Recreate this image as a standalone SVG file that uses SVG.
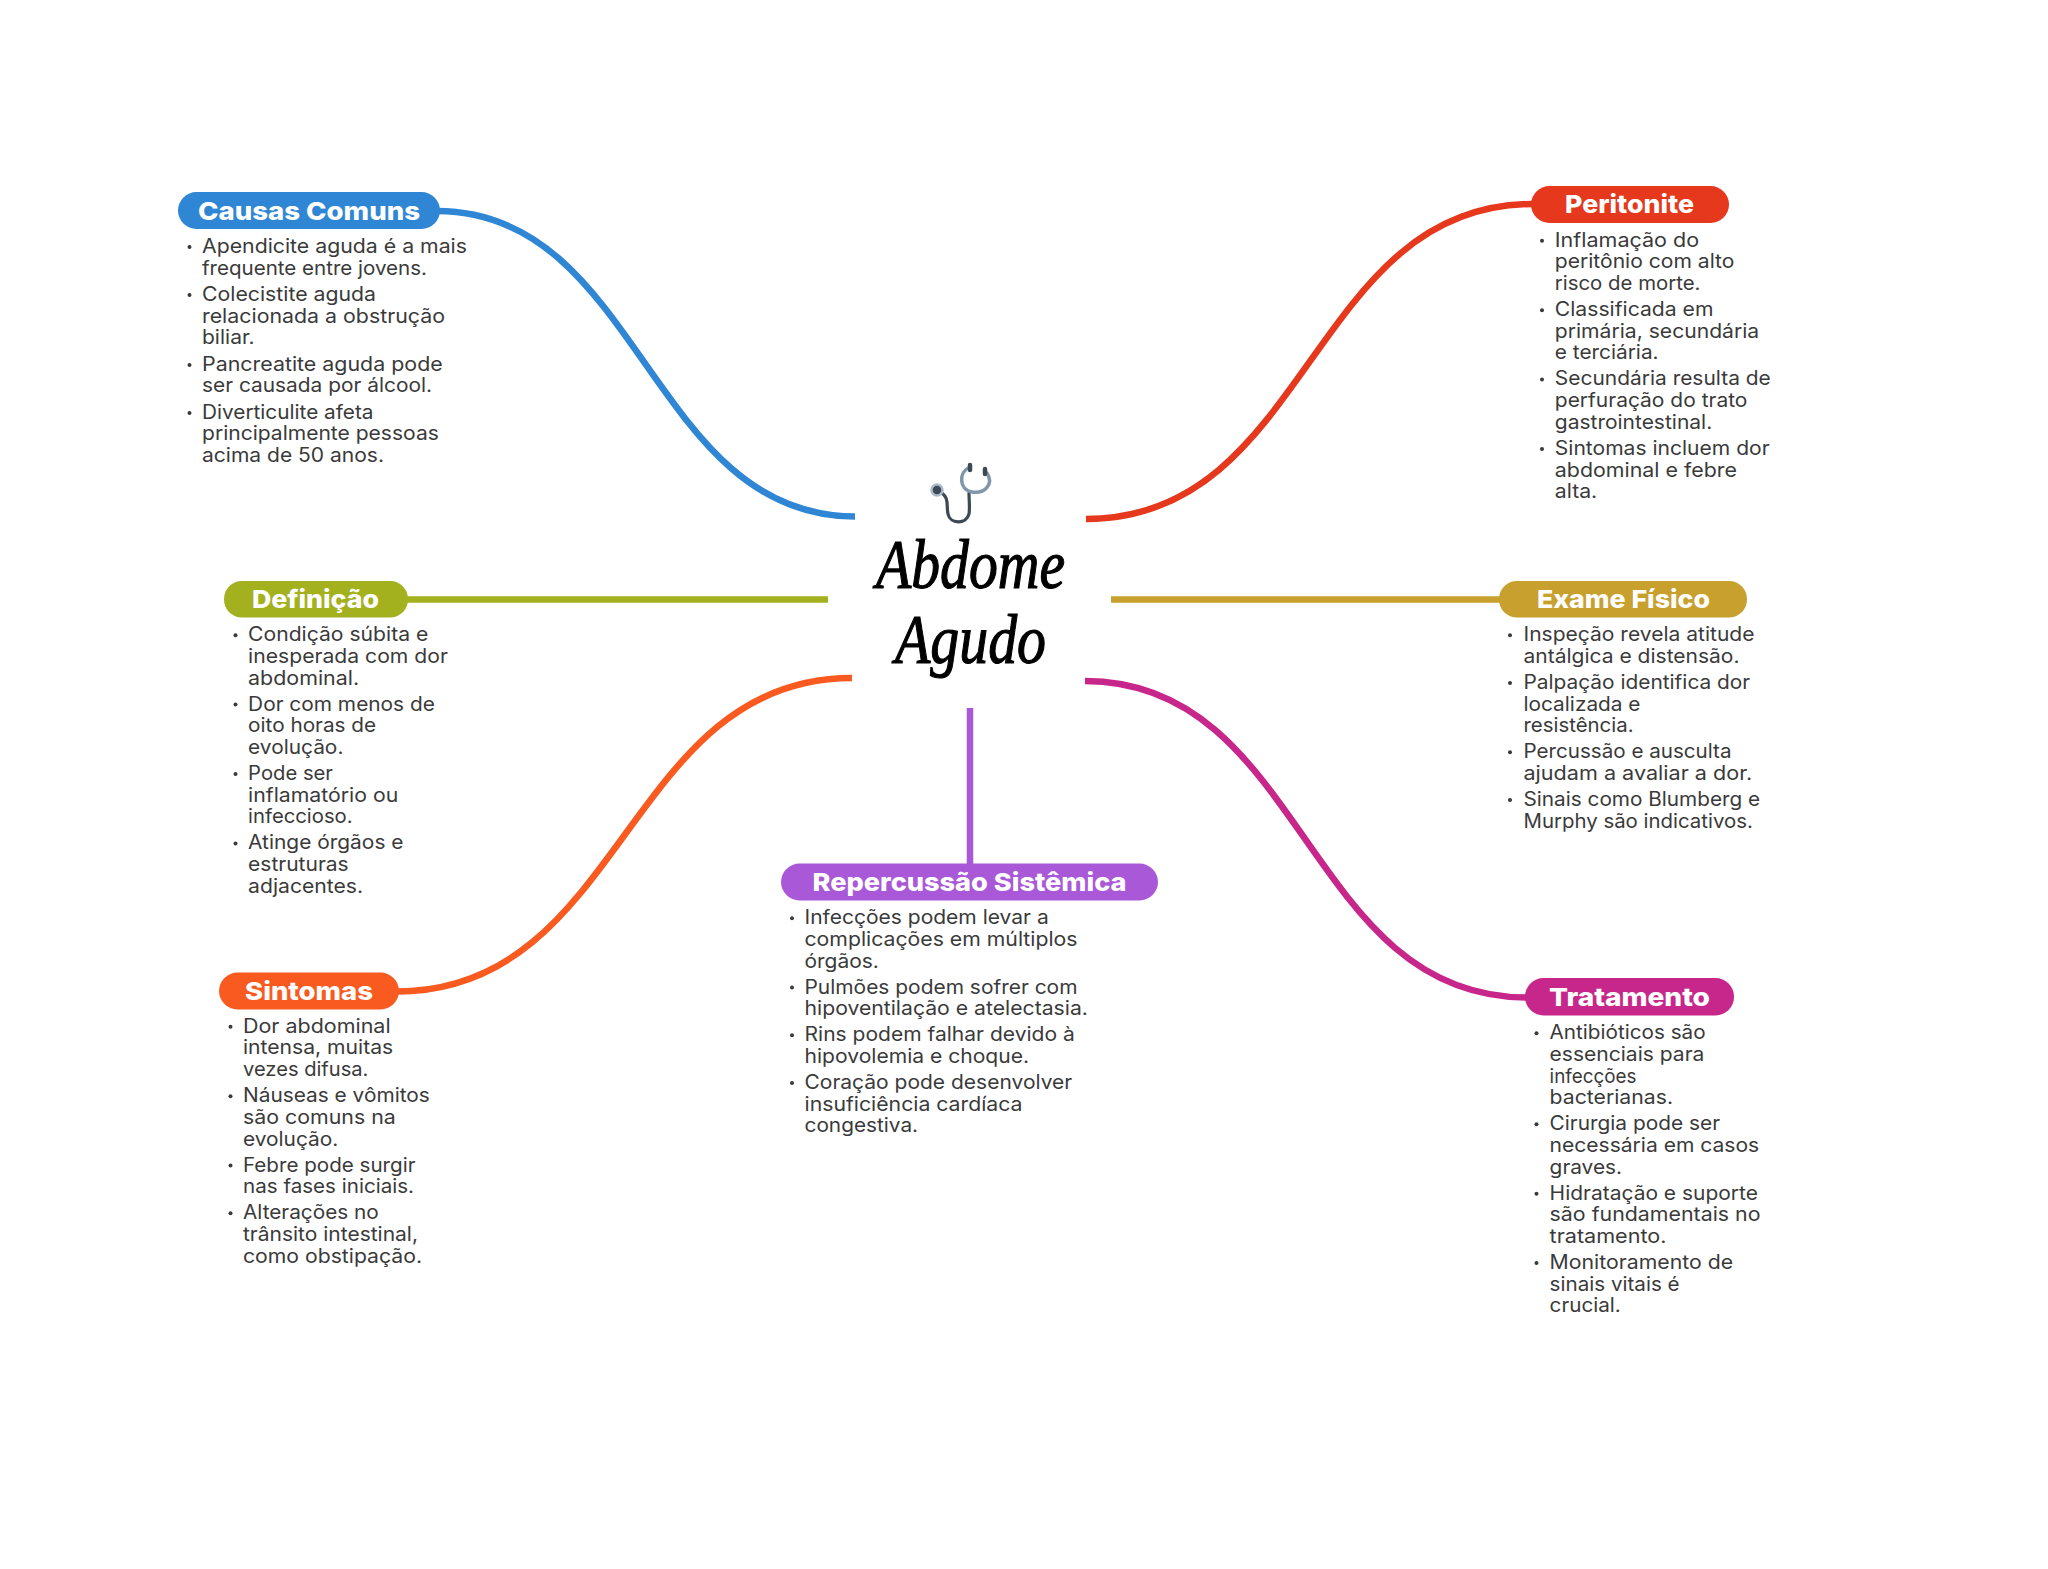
<svg xmlns="http://www.w3.org/2000/svg" width="2048" height="1569" viewBox="0 0 2048 1569">
<style>
.t{font-family:"Inter","Liberation Sans",sans-serif;font-size:19.5px;fill:#3a3a3a;}
.h{font-family:"Inter","Liberation Sans",sans-serif;font-size:25px;font-weight:800;fill:#fff;}
.c{fill:none;stroke-width:6.500;}
.b{fill:#3a3a3a;}
.title{font-family:"Liberation Serif",serif;font-style:italic;font-size:70px;fill:#000;stroke:#000;stroke-width:1.2;}
</style>
<rect width="2048" height="1569" fill="#fff"/>
<g id="connectors">
<path class="c" stroke="#2f86d4" d="M437 211C640 211 650 516.500 855 516.500"/>
<path class="c" stroke="#e5381c" d="M1533 204C1310 204 1310 519 1086 519"/>
<path class="c" stroke="#a3b11f" d="M405 599.500H828"/>
<path class="c" stroke="#c8a02e" d="M1111 599.500H1501"/>
<path class="c" stroke="#f85a20" d="M396 991.500C625 991.500 625 678 852 678"/>
<path class="c" stroke="#c7278a" d="M1527 997.500C1305 997.500 1305 681 1085 681"/>
<path class="c" stroke="#a958d8" d="M970 708V865"/>
</g>
<g id="center">
<g fill="none" stroke="#3d4a55" stroke-linecap="round" stroke-linejoin="round">
<path stroke-width="3.200" d="M940 492C950 497 946 506 948 514C950 524 966 525 969 514C970 508 969 500 969 493"/>
<path stroke="#7f97a8" stroke-width="3.500" d="M970 467C958 472 959 490 972 492C985 494 994 484 987 473"/>
<path stroke-width="4.500" d="M970 465V470M985 469V474"/>
</g>
<circle cx="937" cy="490" r="5.500" fill="#3d4a55" stroke="#a9bac6" stroke-width="2.500"/>
<text class="title" x="876" y="588" textLength="189" lengthAdjust="spacingAndGlyphs">Abdome</text>
<text class="title" x="895" y="663" textLength="151" lengthAdjust="spacingAndGlyphs">Agudo</text>
</g>
<g id="causas">
<rect x="178" y="192" width="262" height="37" rx="18.500" fill="#2f86d4"/>
<text class="h" x="198" y="219.500" textLength="222" lengthAdjust="spacingAndGlyphs">Causas Comuns</text>
<g transform="translate(-0.500,1)">
<circle class="b" cx="190" cy="246" r="2"/><circle class="b" cx="190" cy="294" r="2"/><circle class="b" cx="190" cy="364" r="2"/><circle class="b" cx="190" cy="412" r="2"/>
<text class="t" x="202.500" y="252" textLength="265" lengthAdjust="spacingAndGlyphs">Apendicite aguda é a mais</text>
<text class="t" x="202.500" y="273.700" textLength="225" lengthAdjust="spacingAndGlyphs">frequente entre jovens.</text>
<text class="t" x="202.500" y="300" textLength="174" lengthAdjust="spacingAndGlyphs">Colecistite aguda</text>
<text class="t" x="202.500" y="321.700" textLength="243" lengthAdjust="spacingAndGlyphs">relacionada a obstrução</text>
<text class="t" x="202.500" y="343.400" textLength="52.600" lengthAdjust="spacingAndGlyphs">biliar.</text>
<text class="t" x="202.500" y="369.700" textLength="240.700" lengthAdjust="spacingAndGlyphs">Pancreatite aguda pode</text>
<text class="t" x="202.500" y="391.400" textLength="230" lengthAdjust="spacingAndGlyphs">ser causada por álcool.</text>
<text class="t" x="202.500" y="417.700" textLength="171.500" lengthAdjust="spacingAndGlyphs">Diverticulite afeta</text>
<text class="t" x="202.500" y="439.400" textLength="236.800" lengthAdjust="spacingAndGlyphs">principalmente pessoas</text>
<text class="t" x="202.500" y="461.100" textLength="182" lengthAdjust="spacingAndGlyphs">acima de 50 anos.</text>
</g>
</g>
<g id="peritonite">
<rect x="1531" y="186" width="198" height="37" rx="18.500" fill="#e5381c"/>
<text class="h" x="1565" y="212.800" textLength="129" lengthAdjust="spacingAndGlyphs">Peritonite</text>
<g transform="translate(0,1.200)">
<circle class="b" cx="1542" cy="239.500" r="2"/><circle class="b" cx="1542" cy="309" r="2"/><circle class="b" cx="1542" cy="378.300" r="2"/><circle class="b" cx="1542" cy="447.700" r="2"/>
<text class="t" x="1554.800" y="245.500" textLength="144.300" lengthAdjust="spacingAndGlyphs">Inflamação do</text>
<text class="t" x="1554.800" y="267.200" textLength="179.600" lengthAdjust="spacingAndGlyphs">peritônio com alto</text>
<text class="t" x="1554.800" y="288.900" textLength="145.600" lengthAdjust="spacingAndGlyphs">risco de morte.</text>
<text class="t" x="1554.800" y="314.900" textLength="158.700" lengthAdjust="spacingAndGlyphs">Classificada em</text>
<text class="t" x="1554.800" y="336.600" textLength="204.400" lengthAdjust="spacingAndGlyphs">primária, secundária</text>
<text class="t" x="1554.800" y="358.300" textLength="103.800" lengthAdjust="spacingAndGlyphs">e terciária.</text>
<text class="t" x="1554.800" y="384.300" textLength="216" lengthAdjust="spacingAndGlyphs">Secundária resulta de</text>
<text class="t" x="1554.800" y="406" textLength="192.600" lengthAdjust="spacingAndGlyphs">perfuração do trato</text>
<text class="t" x="1554.800" y="427.700" textLength="157.400" lengthAdjust="spacingAndGlyphs">gastrointestinal.</text>
<text class="t" x="1554.800" y="453.700" textLength="214.800" lengthAdjust="spacingAndGlyphs">Sintomas incluem dor</text>
<text class="t" x="1554.800" y="475.400" textLength="182.200" lengthAdjust="spacingAndGlyphs">abdominal e febre</text>
<text class="t" x="1554.800" y="497.100" textLength="42.400" lengthAdjust="spacingAndGlyphs">alta.</text>
</g>
</g>
<g id="definicao">
<rect x="224" y="581" width="184" height="36.500" rx="18" fill="#a3b11f"/>
<text class="h" x="252" y="608" textLength="127" lengthAdjust="spacingAndGlyphs">Definição</text>
<g transform="translate(0,1.200)">
<circle class="b" cx="235.500" cy="634" r="2"/><circle class="b" cx="235.500" cy="703.400" r="2"/><circle class="b" cx="235.500" cy="772.800" r="2"/><circle class="b" cx="235.500" cy="842.200" r="2"/>
<text class="t" x="248.100" y="640" textLength="180.200" lengthAdjust="spacingAndGlyphs">Condição súbita e</text>
<text class="t" x="248.100" y="661.700" textLength="199.800" lengthAdjust="spacingAndGlyphs">inesperada com dor</text>
<text class="t" x="248.100" y="683.400" textLength="111" lengthAdjust="spacingAndGlyphs">abdominal.</text>
<text class="t" x="248.100" y="709.400" textLength="186.800" lengthAdjust="spacingAndGlyphs">Dor com menos de</text>
<text class="t" x="248.100" y="731.100" textLength="128" lengthAdjust="spacingAndGlyphs">oito horas de</text>
<text class="t" x="248.100" y="752.800" textLength="95.300" lengthAdjust="spacingAndGlyphs">evolução.</text>
<text class="t" x="248.100" y="778.800" textLength="84.900" lengthAdjust="spacingAndGlyphs">Pode ser</text>
<text class="t" x="248.100" y="800.500" textLength="150.200" lengthAdjust="spacingAndGlyphs">inflamatório ou</text>
<text class="t" x="248.100" y="822.200" textLength="104.500" lengthAdjust="spacingAndGlyphs">infeccioso.</text>
<text class="t" x="248.100" y="848.200" textLength="155.400" lengthAdjust="spacingAndGlyphs">Atinge órgãos e</text>
<text class="t" x="248.100" y="869.900" textLength="100.600" lengthAdjust="spacingAndGlyphs">estruturas</text>
<text class="t" x="248.100" y="891.600" textLength="115" lengthAdjust="spacingAndGlyphs">adjacentes.</text>
</g>
</g>
<g id="exame">
<rect x="1499" y="581" width="248" height="36.500" rx="18" fill="#c8a02e"/>
<text class="h" x="1537" y="607.500" textLength="173" lengthAdjust="spacingAndGlyphs">Exame Físico</text>
<g transform="translate(-0.500,1.200)">
<circle class="b" cx="1510.500" cy="634" r="2"/><circle class="b" cx="1510.500" cy="681.700" r="2"/><circle class="b" cx="1510.500" cy="751.100" r="2"/><circle class="b" cx="1510.500" cy="798.800" r="2"/>
<text class="t" x="1524" y="640" textLength="231" lengthAdjust="spacingAndGlyphs">Inspeção revela atitude</text>
<text class="t" x="1524" y="661.700" textLength="216" lengthAdjust="spacingAndGlyphs">antálgica e distensão.</text>
<text class="t" x="1524" y="687.700" textLength="226.700" lengthAdjust="spacingAndGlyphs">Palpação identifica dor</text>
<text class="t" x="1524" y="709.400" textLength="117" lengthAdjust="spacingAndGlyphs">localizada e</text>
<text class="t" x="1524" y="731.100" textLength="110" lengthAdjust="spacingAndGlyphs">resistência.</text>
<text class="t" x="1524" y="757.100" textLength="208" lengthAdjust="spacingAndGlyphs">Percussão e ausculta</text>
<text class="t" x="1524" y="778.800" textLength="228.700" lengthAdjust="spacingAndGlyphs">ajudam a avaliar a dor.</text>
<text class="t" x="1524" y="804.800" textLength="236.700" lengthAdjust="spacingAndGlyphs">Sinais como Blumberg e</text>
<text class="t" x="1524" y="826.500" textLength="229.300" lengthAdjust="spacingAndGlyphs">Murphy são indicativos.</text>
</g>
</g>
<g id="sintomas">
<rect x="219" y="972.500" width="180" height="37" rx="18.500" fill="#f85a20"/>
<text class="h" x="245" y="999.800" textLength="128" lengthAdjust="spacingAndGlyphs">Sintomas</text>
<g transform="translate(0,1.200)">
<circle class="b" cx="230.500" cy="1025.600" r="2"/><circle class="b" cx="230.500" cy="1095" r="2"/><circle class="b" cx="230.500" cy="1164.400" r="2"/><circle class="b" cx="230.500" cy="1212.100" r="2"/>
<text class="t" x="243" y="1031.600" textLength="147.600" lengthAdjust="spacingAndGlyphs">Dor abdominal</text>
<text class="t" x="243" y="1053.300" textLength="150.200" lengthAdjust="spacingAndGlyphs">intensa, muitas</text>
<text class="t" x="243" y="1075" textLength="125.400" lengthAdjust="spacingAndGlyphs">vezes difusa.</text>
<text class="t" x="243" y="1101" textLength="186.800" lengthAdjust="spacingAndGlyphs">Náuseas e vômitos</text>
<text class="t" x="243" y="1122.700" textLength="152.800" lengthAdjust="spacingAndGlyphs">são comuns na</text>
<text class="t" x="243" y="1144.400" textLength="95.300" lengthAdjust="spacingAndGlyphs">evolução.</text>
<text class="t" x="243" y="1170.400" textLength="172.400" lengthAdjust="spacingAndGlyphs">Febre pode surgir</text>
<text class="t" x="243" y="1192.100" textLength="171" lengthAdjust="spacingAndGlyphs">nas fases iniciais.</text>
<text class="t" x="243" y="1218.100" textLength="135.800" lengthAdjust="spacingAndGlyphs">Alterações no</text>
<text class="t" x="243" y="1239.800" textLength="175" lengthAdjust="spacingAndGlyphs">trânsito intestinal,</text>
<text class="t" x="243" y="1261.500" textLength="179" lengthAdjust="spacingAndGlyphs">como obstipação.</text>
</g>
</g>
<g id="repercussao">
<rect x="781" y="863.500" width="377" height="37" rx="18.500" fill="#a958d8"/>
<text class="h" x="812.500" y="891" textLength="314" lengthAdjust="spacingAndGlyphs">Repercussão Sistêmica</text>
<g transform="translate(0,1.200)">
<circle class="b" cx="792" cy="917" r="2"/><circle class="b" cx="792" cy="986.400" r="2"/><circle class="b" cx="792" cy="1034.100" r="2"/><circle class="b" cx="792" cy="1081.800" r="2"/>
<text class="t" x="804.500" y="923" textLength="244.200" lengthAdjust="spacingAndGlyphs">Infecções podem levar a</text>
<text class="t" x="804.500" y="944.700" textLength="273" lengthAdjust="spacingAndGlyphs">complicações em múltiplos</text>
<text class="t" x="804.500" y="966.400" textLength="74.400" lengthAdjust="spacingAndGlyphs">órgãos.</text>
<text class="t" x="804.500" y="992.400" textLength="273" lengthAdjust="spacingAndGlyphs">Pulmões podem sofrer com</text>
<text class="t" x="804.500" y="1014.100" textLength="283.400" lengthAdjust="spacingAndGlyphs">hipoventilação e atelectasia.</text>
<text class="t" x="804.500" y="1040.100" textLength="270.300" lengthAdjust="spacingAndGlyphs">Rins podem falhar devido à</text>
<text class="t" x="804.500" y="1061.800" textLength="224.600" lengthAdjust="spacingAndGlyphs">hipovolemia e choque.</text>
<text class="t" x="804.500" y="1087.800" textLength="267.700" lengthAdjust="spacingAndGlyphs">Coração pode desenvolver</text>
<text class="t" x="804.500" y="1109.500" textLength="218" lengthAdjust="spacingAndGlyphs">insuficiência cardíaca</text>
<text class="t" x="804.500" y="1131.200" textLength="113.600" lengthAdjust="spacingAndGlyphs">congestiva.</text>
</g>
</g>
<g id="tratamento">
<rect x="1525" y="978" width="209" height="37.500" rx="18.500" fill="#c7278a"/>
<text class="h" x="1549" y="1005.500" textLength="161" lengthAdjust="spacingAndGlyphs">Tratamento</text>
<g transform="translate(0,1.200)">
<circle class="b" cx="1536.500" cy="1032" r="2"/><circle class="b" cx="1536.500" cy="1123.100" r="2"/><circle class="b" cx="1536.500" cy="1192.500" r="2"/><circle class="b" cx="1536.500" cy="1261.900" r="2"/>
<text class="t" x="1549.600" y="1038" textLength="156" lengthAdjust="spacingAndGlyphs">Antibióticos são</text>
<text class="t" x="1549.600" y="1059.700" textLength="154.800" lengthAdjust="spacingAndGlyphs">essenciais para</text>
<text class="t" x="1549.600" y="1081.400" textLength="86.800" lengthAdjust="spacingAndGlyphs">infecções</text>
<text class="t" x="1549.600" y="1103.100" textLength="123.400" lengthAdjust="spacingAndGlyphs">bacterianas.</text>
<text class="t" x="1549.600" y="1129.100" textLength="170.400" lengthAdjust="spacingAndGlyphs">Cirurgia pode ser</text>
<text class="t" x="1549.600" y="1150.800" textLength="209.600" lengthAdjust="spacingAndGlyphs">necessária em casos</text>
<text class="t" x="1549.600" y="1172.500" textLength="72.500" lengthAdjust="spacingAndGlyphs">graves.</text>
<text class="t" x="1549.600" y="1198.500" textLength="208.300" lengthAdjust="spacingAndGlyphs">Hidratação e suporte</text>
<text class="t" x="1549.600" y="1220.200" textLength="210.900" lengthAdjust="spacingAndGlyphs">são fundamentais no</text>
<text class="t" x="1549.600" y="1241.900" textLength="116.900" lengthAdjust="spacingAndGlyphs">tratamento.</text>
<text class="t" x="1549.600" y="1267.900" textLength="183.500" lengthAdjust="spacingAndGlyphs">Monitoramento de</text>
<text class="t" x="1549.600" y="1289.600" textLength="130" lengthAdjust="spacingAndGlyphs">sinais vitais é</text>
<text class="t" x="1549.600" y="1311.300" textLength="71.200" lengthAdjust="spacingAndGlyphs">crucial.</text>
</g>
</g>
</svg>
